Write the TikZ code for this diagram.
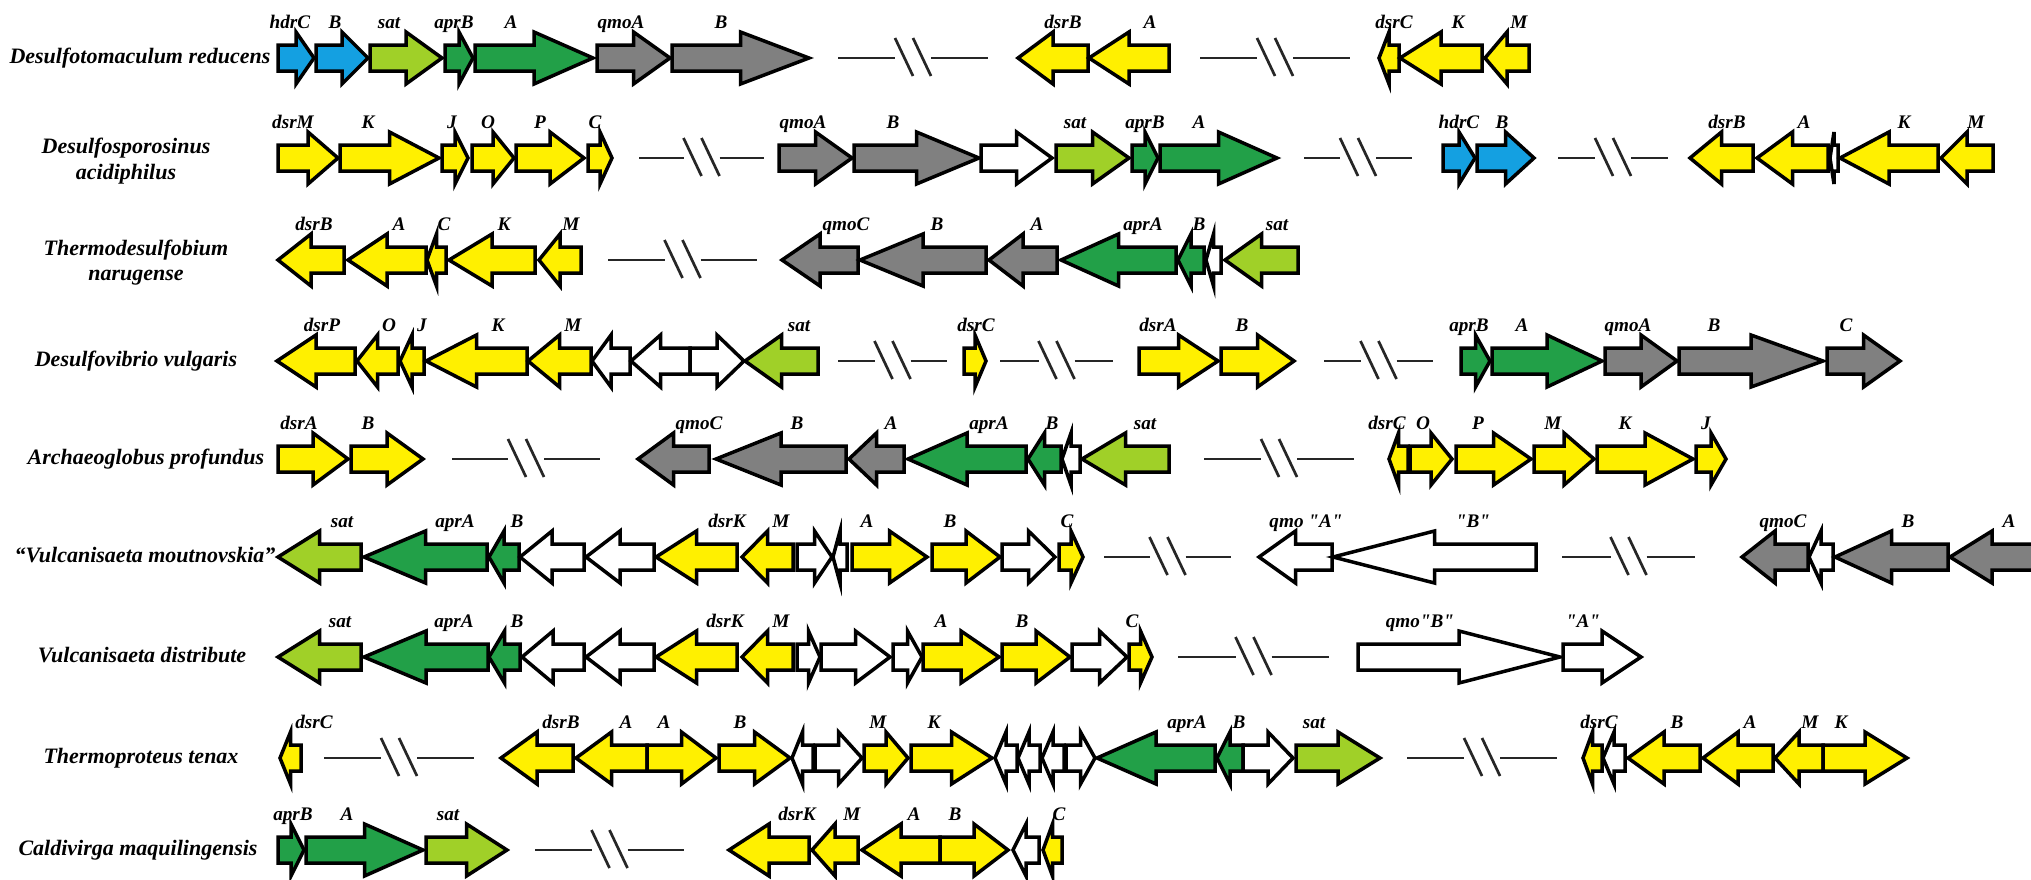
\documentclass[tikz,border=0pt]{standalone}
\usepackage{fontspec}
\setmainfont{Liberation Serif}
\definecolor{cdsr}{RGB}{255,240,0}
\definecolor{capr}{RGB}{34,160,72}
\definecolor{csat}{RGB}{160,208,40}
\definecolor{cqmo}{RGB}{128,128,128}
\definecolor{chdr}{RGB}{20,160,225}
\definecolor{cnone}{RGB}{255,255,255}
\newcommand\dq{\textquotedbl}
% gene arrow: #1 row y, #2 tail x, #3 tip x, #4 fill; the head takes half the length
\newcommand\genearr[4]{%
  \pgfmathsetmacro\hb{(#2+#3)/2}%
  \draw[genearrow, fill=#4] (#2,#1-13) -- (\hb,#1-13) -- (\hb,#1-26) -- (#3,#1)
    -- (\hb,#1+26) -- (\hb,#1+13) -- (#2,#1+13) -- cycle;}
% chromosome gap: #1 row y, #2 left x, #3 right x
\newcommand\gapmark[3]{%
  \pgfmathsetmacro\gc{(#2+#3)/2}%
  \draw[gapline] (#2,#1) -- (\gc-18,#1) (\gc+18,#1) -- (#3,#1);
  \draw[gapline] (\gc-18,#1-20) -- (\gc,#1+18) (\gc,#1-20) -- (\gc+18,#1+18);}
\tikzset{
  genearrow/.style={draw=black, line width=1.75pt, line join=miter},
  gapline/.style={draw=black!85, line width=1.35pt},
  genelabel/.style={font=\fontsize{9.6}{10}\selectfont\bfseries\itshape, anchor=base, inner sep=0pt},
  species/.style={font=\fontsize{11}{12}\selectfont\bfseries\itshape, anchor=base, inner sep=0pt},
}
\begin{document}
\begin{tikzpicture}[x=0.5pt, y=-0.5pt]
\useasboundingbox (0,0) rectangle (2031,879);
\clip (0,0) rectangle (2031,879);
\fill[white] (0,0) rectangle (2031,879);

% species names
\node[species] (sp1)  at (140,63)  {Desulfotomaculum reducens};
\node[species] (sp2a) at (126,153) {Desulfosporosinus};
\node[species] (sp2b) at (126,179) {acidiphilus};
\node[species] (sp3a) at (136,255) {Thermodesulfobium};
\node[species] (sp3b) at (136,280) {narugense};
\node[species] (sp4)  at (136,366) {Desulfovibrio vulgaris};
\node[species] (sp5)  at (146,464) {Archaeoglobus profundus};
\node[species] (sp6)  at (145,562) {“Vulcanisaeta moutnovskia”};
\node[species] (sp7)  at (142,662) {Vulcanisaeta distribute};
\node[species] (sp8)  at (141,763) {Thermoproteus tenax};
\node[species] (sp9)  at (138,855) {Caldivirga maquilingensis};

% row 1
\foreach \t/\h/\c in {278/314/chdr, 316/368/chdr, 370/442/csat, 445/473/capr, 475/593/capr,
  597/670/cqmo, 672/809/cqmo, 1088/1018/cdsr, 1169/1089/cdsr, 1399/1379/cdsr, 1482/1400/cdsr, 1529/1485/cdsr}
  \genearr{58}{\t}{\h}{\c};
\gapmark{58}{838}{988}
\gapmark{58}{1200}{1350}
\foreach \x/\s [count=\i] in {290/hdrC, 335/B, 389/sat, 454/aprB, 511/A, 621/qmoA, 721/B,
  1063/dsrB, 1150/A, 1394/dsrC, 1458/K, 1519/M}
  \node[genelabel] (ga-\i) at (\x,28) {\s};

% row 2
\foreach \t/\h/\c in {278/338/cdsr, 340/439/cdsr, 442/468/cdsr, 472/514/cdsr, 516/584/cdsr, 588/612/cdsr,
  779/852/cqmo, 854/979/cqmo, 981/1052/cnone, 1056/1129/csat, 1132/1158/capr, 1160/1277/capr,
  1443/1475/chdr, 1477/1534/chdr, 1753/1690/cdsr, 1828/1757/cdsr, 1838/1830/cnone, 1938/1840/cdsr, 1993/1941/cdsr}
  \genearr{158}{\t}{\h}{\c};
\gapmark{158}{639}{764}
\gapmark{158}{1304}{1412}
\gapmark{158}{1558}{1668}
\foreach \x/\s [count=\i] in {293/dsrM, 368/K, 452/J, 488/O, 540/P, 595/C, 803/qmoA, 893/B,
  1075/sat, 1145/aprB, 1199/A, 1459/hdrC, 1502/B, 1727/dsrB, 1804/A, 1904/K, 1976/M}
  \node[genelabel] (gb-\i) at (\x,128) {\s};

% row 3
\foreach \t/\h/\c in {344/278/cdsr, 426/348/cdsr, 446/427/cdsr, 535/449/cdsr, 581/539/cdsr,
  858/782/cqmo, 986/860/cqmo, 1057/989/cqmo, 1176/1061/capr, 1204/1178/capr, 1221/1206/cnone, 1298/1225/csat}
  \genearr{260}{\t}{\h}{\c};
\gapmark{260}{608}{757}
\foreach \x/\s [count=\i] in {314/dsrB, 399/A, 444/C, 504/K, 571/M, 846/qmoC, 937/B, 1037/A,
  1143/aprA, 1199/B, 1277/sat}
  \node[genelabel] (gc-\i) at (\x,230) {\s};

% row 4
\foreach \t/\h/\c in {355/277/cdsr, 398/357/cdsr, 424/400/cdsr, 527/426/cdsr, 591/528/cdsr,
  630/592/cnone, 690/631/cnone, 690/744/cnone, 818/745/csat, 964/986/cdsr, 1139/1218/cdsr, 1221/1294/cdsr,
  1461/1490/capr, 1492/1602/capr, 1605/1677/cqmo, 1679/1823/cqmo, 1827/1900/cqmo}
  \genearr{361}{\t}{\h}{\c};
\gapmark{361}{838}{947}
\gapmark{361}{1000}{1113}
\gapmark{361}{1324}{1433}
\foreach \x/\s [count=\i] in {322/dsrP, 389/O, 422/J, 498/K, 573/M, 799/sat, 976/dsrC, 1158/dsrA,
  1242/B, 1469/aprB, 1522/A, 1628/qmoA, 1714/B, 1846/C}
  \node[genelabel] (gd-\i) at (\x,331) {\s};

% row 5
\foreach \t/\h/\c in {278/348/cdsr, 351/423/cdsr, 709/638/cqmo, 846/716/cqmo, 904/849/cqmo,
  1026/908/capr, 1061/1028/capr, 1080/1062/cnone, 1169/1082/csat, 1408/1389/cdsr, 1410/1452/cdsr,
  1456/1531/cdsr, 1534/1594/cdsr, 1597/1693/cdsr, 1696/1726/cdsr}
  \genearr{459}{\t}{\h}{\c};
\gapmark{459}{452}{600}
\gapmark{459}{1204}{1354}
\foreach \x/\s [count=\i] in {299/dsrA, 368/B, 699/qmoC, 797/B, 891/A, 989/aprA, 1052/B, 1145/sat,
  1387/dsrC, 1423/O, 1478/P, 1553/M, 1625/K, 1706/J}
  \node[genelabel] (ge-\i) at (\x,429) {\s};

% row 6
\foreach \t/\h/\c in {361/278/csat, 487/364/capr, 519/489/capr, 584/520/cnone, 654/586/cnone,
  737/656/cdsr, 793/742/cdsr, 797/832/cnone, 847/833/cnone, 852/927/cdsr, 932/1000/cdsr,
  1002/1055/cnone, 1059/1083/cdsr, 1332/1259/cnone, 1536/1333/cnone,
  1808/1742/cqmo, 1833/1809/cnone, 1948/1835/cqmo, 2034/1950/cqmo}
  \genearr{557}{\t}{\h}{\c};
\gapmark{557}{1104}{1231}
\gapmark{557}{1562}{1695}
\foreach \x/\s [count=\i] in {342/sat, 455/aprA, 517/B, 727/dsrK, 781/M, 867/A, 950/B, 1067/C,
  1306/qmo \dq{}A\dq{}, 1473/\dq{}B\dq{}, 1783/qmoC, 1908/B, 2009/A}
  \node[genelabel] (gf-\i) at (\x,527) {\s};

% row 7
\foreach \t/\h/\c in {361/278/csat, 488/364/capr, 520/489/capr, 584/522/cnone, 654/586/cnone,
  737/656/cdsr, 793/742/cdsr, 797/820/cnone, 821/890/cnone, 893/922/cnone, 923/999/cdsr,
  1002/1070/cdsr, 1072/1127/cnone, 1129/1152/cdsr, 1358/1560/cnone, 1563/1641/cnone}
  \genearr{657}{\t}{\h}{\c};
\gapmark{657}{1178}{1329}
\foreach \x/\s [count=\i] in {340/sat, 454/aprA, 517/B, 725/dsrK, 781/M, 941/A, 1022/B, 1132/C,
  1420/qmo\dq{}B\dq{}, 1583/\dq{}A\dq{}}
  \node[genelabel] (gg-\i) at (\x,627) {\s};

% row 8
\foreach \t/\h/\c in {301/280/cdsr, 573/501/cdsr, 647/576/cdsr, 647/716/cdsr, 719/790/cdsr,
  813/792/cnone, 815/862/cnone, 864/908/cdsr, 911/992/cdsr, 1017/995/cnone, 1040/1018/cnone,
  1064/1042/cnone, 1066/1095/cnone, 1215/1097/capr, 1243/1217/capr, 1243/1293/cnone, 1296/1380/csat,
  1602/1583/cdsr, 1625/1603/cnone, 1700/1628/cdsr, 1773/1703/cdsr, 1823/1775/cdsr, 1823/1907/cdsr}
  \genearr{758}{\t}{\h}{\c};
\gapmark{758}{324}{474}
\gapmark{758}{1407}{1557}
\foreach \x/\s [count=\i] in {314/dsrC, 561/dsrB, 626/A, 664/A, 740/B, 878/M, 934/K, 1187/aprA,
  1239/B, 1314/sat, 1599/dsrC, 1677/B, 1750/A, 1810/M, 1841/K}
  \node[genelabel] (gh-\i) at (\x,728) {\s};

% row 9
\foreach \t/\h/\c in {278/304/capr, 306/423/capr, 426/507/csat, 809/729/cdsr, 858/812/cdsr,
  940/862/cdsr, 940/1008/cdsr, 1039/1013/cnone, 1062/1043/cdsr}
  \genearr{850}{\t}{\h}{\c};
\gapmark{850}{535}{684}
\foreach \x/\s [count=\i] in {293/aprB, 347/A, 448/sat, 797/dsrK, 852/M, 914/A, 955/B, 1059/C}
  \node[genelabel] (gi-\i) at (\x,820) {\s};
\end{tikzpicture}
\end{document}
